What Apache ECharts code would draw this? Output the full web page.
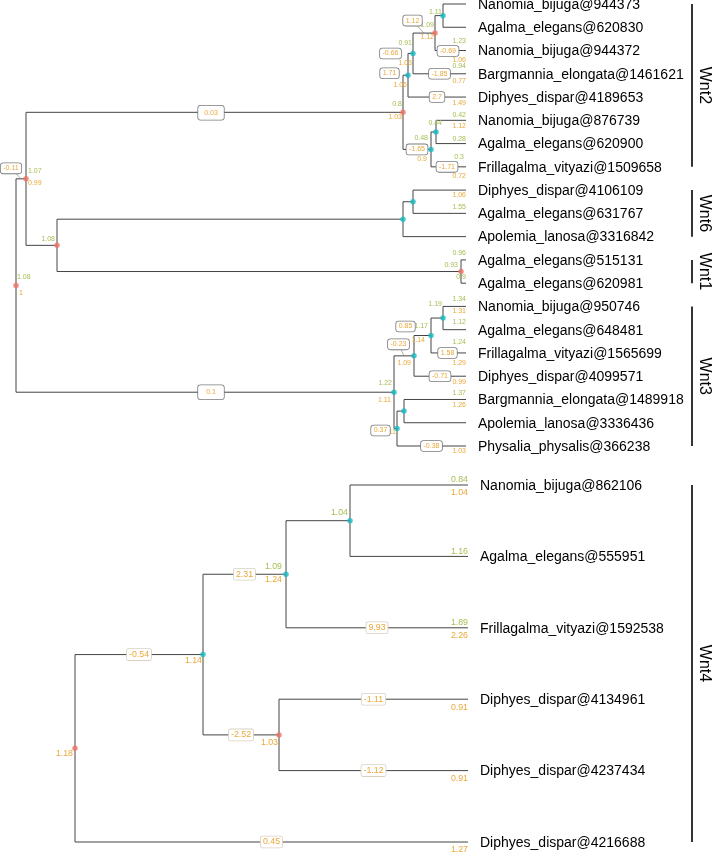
<!DOCTYPE html>
<html><head><meta charset="utf-8">
<script src="https://cdn.jsdelivr.net/npm/echarts@6/dist/echarts.min.js"></script>
<style>html,body{margin:0;padding:0;background:#fff}#c{width:712px;height:853px}</style>
</head><body><div id="c"></div>
<script>
// ================= DATA =================
// Upper tree (Wnt2 / Wnt6 / Wnt1 / Wnt3)
const upperTips = ['Nanomia_bijuga@944373','Agalma_elegans@620830','Nanomia_bijuga@944372','Bargmannia_elongata@1461621','Diphyes_dispar@4189653','Nanomia_bijuga@876739','Agalma_elegans@620900','Frillagalma_vityazi@1509658','Diphyes_dispar@4106109','Agalma_elegans@631767','Apolemia_lanosa@3316842','Agalma_elegans@515131','Agalma_elegans@620981','Nanomia_bijuga@950746','Agalma_elegans@648481','Frillagalma_vityazi@1565699','Diphyes_dispar@4099571','Bargmannia_elongata@1489918','Apolemia_lanosa@3336436','Physalia_physalis@366238'];
const upperTipParents = ['W2d','W2d','W2c','W2b','W2a','W2f','W2f','W2e','W6a','W6a','W6','W1','W1','W3c','W3c','W3b','W3a','W3e','W3e','W3d'];
const upperTipDepth = 466;
const upperNodeNames   = ['R0','A','W2','W2a','W2b','W2c','W2d','W2e','W2f','B','W6','W6a','W1','W3','W3a','W3b','W3c','W3d','W3e'];
const upperNodeParents = [null,'R0','A','W2','W2a','W2b','W2c','W2','W2e','A','B','W6','B','R0','W3','W3a','W3b','W3','W3d'];
const upperNodeDepths  = [16,26,403,408,413,435,443,431,436,57,403,413,461,394,414,431,443,397,404];
const upperNodeState   = [1,1,1,0,0,1,0,0,0,1,0,0,1,0,0,0,0,0,0];
const upperSup = [['W2d','1.11'],['W2c','1.09'],['W2b','0.91'],['W2','0.8'],['W2f','0.44'],['W2e','0.48'],['A','1.07'],['B','1.08'],['R0','1.08'],['W1','0.93'],['W3','1.22'],['W3b','1.17'],['W3c','1.19'],
  ['t2','1.23'],['t3','0.94'],['t5','0.42'],['t6','0.28'],['t7','0.3'],['t9','1.55'],['t11','0.96'],['t12','0.9'],['t13','1.34'],['t14','1.12'],['t15','1.24'],['t17','1.37']];
const upperInf = [['W2c','1.12'],['W2b','1.03'],['W2a','1.06'],['W2','1.03'],['W2e','0.9'],['A','0.99'],['R0','1'],['W3','1.11'],['W3a','1.09'],['W3b','1.14'],['W3d','1.11'],
  ['t2','1.06'],['t3','0.77'],['t4','1.49'],['t5','1.12'],['t7','0.72'],['t8','1.06'],['t13','1.31'],['t15','1.29'],['t16','0.99'],['t17','1.26'],['t19','1.03']];
const upperBox = [['W2','0.03'],['A','-0.11'],['W3','0.1'],['W2c','1.12'],['W2b','-0.66'],['W2a','1.71'],['t2','-0.69'],['t3','-1.85'],['t4','2.7'],['W2e','-1.65'],['t7','-1.71'],['W3a','-0.23'],['W3b','0.85'],['t15','1.58'],['t16','-0.71'],['W3d','0.37'],['t19','-0.38']];
const upperClades = [['Wnt2',0,7],['Wnt6',8,10],['Wnt1',11,12],['Wnt3',13,19]];

// Lower tree (Wnt4)
const lowerTips = ['Nanomia_bijuga@862106','Agalma_elegans@555951','Frillagalma_vityazi@1592538','Diphyes_dispar@4134961','Diphyes_dispar@4237434','Diphyes_dispar@4216688'];
const lowerTipParents = ['LF','LF','LE','LG','LG','L0'];
const lowerTipDepth = 468;
const lowerNodeNames   = ['L0','LD','LE','LF','LG'];
const lowerNodeParents = [null,'L0','LD','LE','LD'];
const lowerNodeDepths  = [75,203,286,350,279];
const lowerNodeState   = [1,0,0,0,1];
const lowerSup = [['LE','1.09'],['LF','1.04'],['t0','0.84'],['t1','1.16'],['t2','1.89']];
const lowerInf = [['L0','1.18'],['LD','1.14'],['LE','1.24'],['LG','1.03'],['t0','1.04'],['t2','2.26'],['t3','0.91'],['t4','0.91'],['t5','1.27']];
const lowerBox = [['LD','-0.54'],['LE','2.31'],['LG','-2.52'],['t2','9.93'],['t3','-1.11'],['t4','-1.12'],['t5','0.45']];
const lowerClades = [['Wnt4',0,5]];

// ================= STYLE / LAYOUT =================
const FONT = '"Liberation Sans", Arial, Helvetica, sans-serif';
const GREEN = '#A5C055', ORANGE = '#EAA838', LINE = '#444';
const DOT = ['#19BCC4', '#F07468'];
// pixel nudges [dx, dy, align] relative to anchors
const upperNudge = {
  'sup:W2d':[-1,-4],'sup:W2c':[-1,-8],'sup:W2b':[-1,-10],'sup:W2':[-1,-8],'sup:W2f':[6,-9],'sup:W2e':[-3,-11],
  'sup:A':[2,-8,'left'],'sup:B':[-2,-6],'sup:R0':[1,-8,'left'],'sup:W1':[-3,-6],'sup:W3':[-2,-9],'sup:W3b':[-3,-9],'sup:W3c':[-1,-14],
  'sup:t2':[0,-9.5],'sup:t3':[0,-8],'sup:t5':[0,-5],'sup:t6':[0,-5],'sup:t7':[-2,-10],'sup:t9':[0,-6],'sup:t11':[0,-7],'sup:t12':[0,-6],
  'sup:t13':[0,-7],'sup:t14':[0,-8],'sup:t15':[0,-11],'sup:t17':[0,-6.5],
  'inf:W2c':[-1,4],'inf:W2b':[-1,10],'inf:W2a':[-1,10],'inf:W2':[-1,5],'inf:W2e':[-4,10],'inf:A':[2,4,'left'],'inf:R0':[3,8,'left'],
  'inf:W3':[-3,8],'inf:W3a':[-3,7],'inf:W3b':[-6,5],'inf:W3d':[-1,4],
  'inf:t2':[0,9.5],'inf:t3':[0,7],'inf:t4':[0,6],'inf:t5':[0,6],'inf:t7':[0,9],'inf:t8':[0,5],'inf:t13':[0,4.5],'inf:t15':[0,10],
  'inf:t16':[0,6],'inf:t17':[0,5.5],'inf:t19':[0,5],
  'box:W2':[-3.5,0.5],'box:W3':[6,0],'box:A':[-10,-10.5],'box:W2c':[-11.5,-12.5],'box:W2b':[-20,0],'box:W2a':[-16,-2],
  'box:t2':[-2.5,0.5],'box:t7':[-1.5,0],'box:W3a':[-5.5,-11.5],'box:W3b':[-17,-9],'box:t15':[-1,0],'box:W3d':[-15,2]
};
const lowerNudge = {
  'sup:LE':[-4,-8],'sup:LF':[-2,-8],'sup:t0':[0,-5],'sup:t1':[0,-4.5],'sup:t2':[0,-5],
  'inf:L0':[-2,5],'inf:LD':[-1,6],'inf:LE':[-4,5],'inf:LG':[-1,8],'inf:t0':[0,8],'inf:t2':[0,8],'inf:t3':[0,8],'inf:t4':[0,8],'inf:t5':[0,8]
};
const upperBoxPad = {'W2':[3.5,6],'W3':[3.5,8]};
const connectors = {'A':1,'W3a':1,'W2c':1};

// ================= BUILD =================
function buildTree(tips, tipParents, tipDepth, names, parents, depths, states){
  const nodes = {};
  names.forEach((n,i)=>nodes[n]={name:n,parent:parents[i],depth:depths[i],children:[],tip:false,state:states[i]});
  tips.forEach((t,i)=>nodes['t'+i]={name:'t'+i,parent:tipParents[i],depth:tipDepth,children:[],tip:true,y:i,label:t});
  Object.values(nodes).forEach(n=>{ if(n.parent) nodes[n.parent].children.push(n); });
  const gy = n => { if(n.y!==undefined) return n.y; const ys=n.children.map(gy); n.y=ys.reduce((a,b)=>a+b,0)/ys.length; return n.y; };
  Object.values(nodes).forEach(gy);
  return nodes;
}
function segs(nodes){
  const s=[];
  Object.values(nodes).forEach(n=>{
    if(n.parent){ const p=nodes[n.parent]; s.push([p.depth,n.y,n.depth,n.y]); }
    if(n.children.length){ const ys=n.children.map(c=>c.y); s.push([n.depth,Math.min(...ys),n.depth,Math.max(...ys)]); }
  });
  return s;
}
function labelSpecs(tree, list, kind, nudge, upper){
  return list.map(([id,text])=>{
    const n=tree[id];
    let ax=n.depth, ay=n.y;
    if(kind==='box') ax=(tree[n.parent].depth+n.depth)/2;
    let def;
    if(kind==='box') def=[0,0,'center'];
    else if(n.tip) def = kind==='sup' ? [0,upper?-6:-5,'right'] : [0,upper?6:8,'right'];
    else def = kind==='sup' ? [-1,-6,'right'] : [-1,6,'right'];
    const nd = nudge[kind+':'+id] || def;
    return {id, text, kind, ax, ay, dx:nd[0], dy:nd[1], align:nd[2]||(kind==='box'?'center':'right'), tip:n.tip};
  });
}

const U = buildTree(upperTips, upperTipParents, upperTipDepth, upperNodeNames, upperNodeParents, upperNodeDepths, upperNodeState);
const L = buildTree(lowerTips, lowerTipParents, lowerTipDepth, lowerNodeNames, lowerNodeParents, lowerNodeDepths, lowerNodeState);

function seriesFor(tree, gi, sup, inf, box, nudge, upper, clades){
  const fs = upper ? 7 : 8.8;
  const out = [];
  out.push({type:'custom', xAxisIndex:gi, yAxisIndex:gi, z:1, silent:true,
    encode:{x:[0,2], y:[1,3]}, data:segs(tree),
    renderItem:(p,api)=>{ const a=api.coord([api.value(0),api.value(1)]), b=api.coord([api.value(2),api.value(3)]);
      return {type:'line', shape:{x1:a[0],y1:a[1],x2:b[0],y2:b[1]}, style:{stroke:LINE, lineWidth:1}}; }});
  const inner = Object.values(tree).filter(n=>!n.tip);
  out.push({type:'scatter', xAxisIndex:gi, yAxisIndex:gi, z:3, silent:true, symbolSize:5.5,
    data: inner.map(n=>({value:[n.depth,n.y], itemStyle:{color:DOT[n.state]}}))});
  const specs = [].concat(labelSpecs(tree,sup,'sup',nudge,upper), labelSpecs(tree,inf,'inf',nudge,upper), labelSpecs(tree,box,'box',nudge,upper));
  out.push({type:'custom', xAxisIndex:gi, yAxisIndex:gi, z:5, silent:true, encode:{x:0,y:1},
    data: specs.map(s=>[s.ax,s.ay]),
    renderItem:(p,api)=>{
      const s=specs[p.dataIndex]; const c=api.coord([api.value(0),api.value(1)]);
      const x=c[0]+s.dx, y=c[1]+s.dy;
      if(s.kind==='box'){
        const pad = upper ? (upperBoxPad[s.id]||[1.5,2.5]) : [1,2];
        const kids=[{type:'text', x, y, z2:2, style:{text:s.text, fill:ORANGE, font:fs+'px '+FONT, align:'center', verticalAlign:'middle',
          backgroundColor:'#fff', borderColor: upper?'#7a7a7a':'#d9d0c0', borderWidth:0.8, borderRadius: upper?2.5:1.5, padding:pad}}];
        if(upper && connectors[s.id]) kids.unshift({type:'line', z2:1, shape:{x1:x,y1:y,x2:c[0],y2:c[1]}, style:{stroke:'#777',lineWidth:0.6}});
        return {type:'group', children:kids};
      }
      return {type:'text', x, y, style:{text:s.text, fill: s.kind==='sup'?GREEN:ORANGE, font:fs+'px '+FONT, align:s.align, verticalAlign:'middle'}};
    }});
  const tipNodes = Object.values(tree).filter(n=>n.tip);
  out.push({type:'custom', xAxisIndex:gi, yAxisIndex:gi, z:4, silent:true, encode:{x:0,y:1},
    data: tipNodes.map(n=>[n.depth,n.y]),
    renderItem:(p,api)=>{ const c=api.coord([api.value(0),api.value(1)]);
      return {type:'text', x:c[0]+12, y:c[1]+1, style:{text:tipNodes[p.dataIndex].label, fill:'#000', font:'14px '+FONT, align:'left', verticalAlign:'middle'}}; }});
  out.push({type:'custom', xAxisIndex:gi, yAxisIndex:gi, z:4, silent:true, encode:{y:[1,2]},
    data: clades.map(c=>[0,c[1],c[2]]),
    renderItem:(p,api)=>{ const a=api.coord([692,api.value(1)]), b=api.coord([692,api.value(2)]);
      return {type:'group', children:[
        {type:'line', shape:{x1:a[0],y1:a[1],x2:b[0],y2:b[1]}, style:{stroke:'#000', lineWidth:1.6}},
        {type:'text', x:a[0]+12, y:(a[1]+b[1])/2, rotation:-Math.PI/2, style:{text:clades[p.dataIndex][0], fill:'#000', font:'16px '+FONT, align:'center', verticalAlign:'middle'}}
      ]}; }});
  return out;
}

const chart = echarts.init(document.getElementById('c'));
chart.setOption({
  animation:false,
  backgroundColor:'#fff',
  grid:[{left:0,right:0,top:4,height:442},{left:0,right:0,top:485,height:357}],
  xAxis:[{gridIndex:0,type:'value',min:0,max:712,show:false},{gridIndex:1,type:'value',min:0,max:712,show:false}],
  yAxis:[{gridIndex:0,type:'value',min:0,max:19,inverse:true,show:false},{gridIndex:1,type:'value',min:0,max:5,inverse:true,show:false}],
  series:[].concat(
    seriesFor(U,0,upperSup,upperInf,upperBox,upperNudge,true,upperClades),
    seriesFor(L,1,lowerSup,lowerInf,lowerBox,lowerNudge,false,lowerClades))
});
</script></body></html>
